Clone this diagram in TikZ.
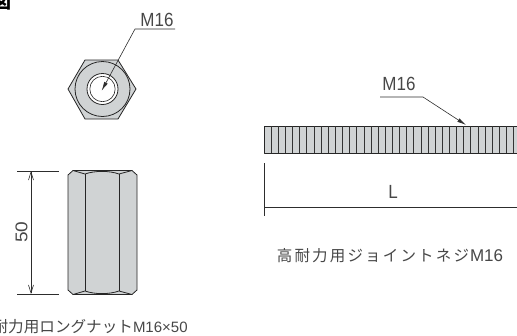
\documentclass[tikz,border=0pt]{standalone}
\usepackage{fontspec}
\setmainfont{Liberation Sans}
\newfontfamily\jpfont{Noto Sans CJK JP}
\newfontfamily\jpwide[LetterSpace=14]{Noto Sans CJK JP}
\usetikzlibrary{arrows.meta}
\definecolor{partgray}{RGB}{208,211,212}
\definecolor{inkgray}{RGB}{45,45,45}
\begin{document}
\begin{tikzpicture}
	[
	 x = 1pt,
	 y = -1pt,
	 every node/.style = {inner sep = 0pt, text = black!72},
	 part/.style = {draw = black!85, fill = partgray, line width = .8pt, line join = round},
	 dimline/.style = {draw = inkgray, line width = .6pt},
	 dimarrow/.style = {dimline, {Straight Barb[length=8pt,width=5pt]}-{Straight Barb[length=8pt,width=5pt]}},
	 leader/.style = {dimline, -{Latex[length=9pt,width=4pt]}},
	 Label/.style = {font = \fontsize{17}{17}\selectfont, yscale = 1.12},
	 Caption/.style = {font = \fontsize{15}{15}\selectfont}
	]
	\useasboundingbox (0,0) rectangle (517,335);

	% mark
	\node [font = \jpfont\bfseries\fontsize{18}{18}\selectfont, text = black] (mark) at (2.5,2.5) {図};

	% nut, end view
	\filldraw [part] (68,89) -- (85,60) -- (118,60) -- (136,89) -- (118,119) -- (85,119) -- cycle;
	\filldraw [part] (102.5,89) circle (27.5);
	\filldraw [part, fill = white] (102.5,89) circle (15.5);
	\draw [part, fill = none, line width = .6pt] (102.5,89) circle (12.7);
	\coordinate (hole) at (101.7,90.7);
	\coordinate (bend1) at (135,29);
	\coordinate (end1) at (175,29);
	\node [Label] (m1) at (157,20) {M16};
	\draw [leader] (end1) -- (bend1) -- (hole);

	% nut, side view
	\filldraw [part] (73,170.5) -- (132,170.5) -- (137,175) -- (137,290) -- (132,294.5) -- (73,294.5) -- (68,290) -- (68,175) -- cycle;
	\draw [part, fill = none] (85,174) -- (85,291);
	\draw [part, fill = none] (119,174) -- (119,291);
	\draw [part, fill = none] (73,170.5) -- (85,174) .. controls (95,170.5) and (109,170.5) .. (119,174) -- (132,170.5);
	\draw [part, fill = none] (73,294.5) -- (85,291) .. controls (95,294.5) and (109,294.5) .. (119,291) -- (132,294.5);
	\coordinate (top) at (31,171);
	\coordinate (bot) at (31,294);
	\draw [dimline] (17,171) -- (59,171);
	\draw [dimline] (17,294) -- (59,294);
	\draw [dimarrow] (top) -- (bot);
	\node [font = \fontsize{17}{17}\selectfont, rotate = 90, xscale = 1.12] (h50) at (21.5,232) {50};
	\node [Caption, anchor = west] (cap1) at (-7.6,327) {{\jpfont\fontsize{15.6}{15}\selectfont 耐力用ロングナット}M16×50};

	% rod
	\filldraw [part] (264,126) rectangle (520,153);
	\foreach \i in {1,...,36}
		\draw [draw = black!80, line width = .6pt] (264+7.13*\i,126) -- (264+7.13*\i,153);
	\coordinate (bend2) at (423,97);
	\coordinate (start2) at (380,97);
	\coordinate (tip2) at (466,125);
	\node [Label] (m2) at (399,84) {M16};
	\draw [leader] (start2) -- (bend2) -- (tip2);

	% length
	\draw [dimline] (264,163) -- (264,216);
	\draw [dimline] (264,207) -- (517,207);
	\node [Label] (len) at (393,192) {L};
	\node [Caption] (cap2) at (390,256) {{\jpwide\fontsize{15.5}{15}\selectfont 高耐力用ジョイントネジ}\hspace{1pt}\fontsize{17}{15}\selectfont M16};
\end{tikzpicture}
\end{document}
